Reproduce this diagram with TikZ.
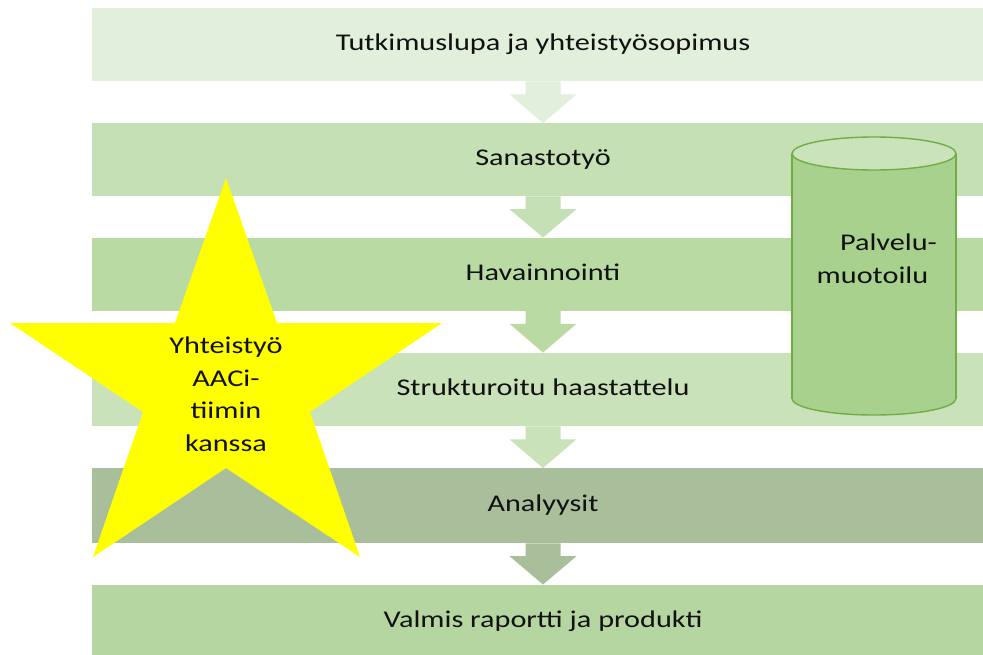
\documentclass[tikz,border=0pt]{standalone}
\usepackage{fontspec}
\setmainfont[FakeStretch=1.26]{Carlito}
\usetikzlibrary{calc}
\definecolor{cA}{HTML}{E2EFDA}
\definecolor{cB}{HTML}{C5E0B4}
\definecolor{cC}{HTML}{B9DBA3}
\definecolor{cD}{HTML}{C9E2B9}
\definecolor{cE}{HTML}{A9BF9B}
\definecolor{cF}{HTML}{B5D6A0}
\definecolor{cylbody}{HTML}{A9D18E}
\definecolor{cyltop}{HTML}{CBE3BA}
\definecolor{cylline}{HTML}{70AD47}
\definecolor{starfill}{HTML}{FFFF00}
\definecolor{txt}{HTML}{111111}
\newcommand\blockarrow[3]{%
  \fill[#3] ($(#1.south)+(-17.5,0)$) -- ($(#1.south)!0.31!(#2.north)+(-17.5,0)$)
    -- ($(#1.south)!0.31!(#2.north)+(-33.5,0)$) -- (#2.north)
    -- ($(#1.south)!0.31!(#2.north)+(33.5,0)$) -- ($(#1.south)!0.31!(#2.north)+(17.5,0)$)
    -- ($(#1.south)+(17.5,0)$) -- cycle;}
\begin{document}
\begin{tikzpicture}[x=1pt,y=-1pt,
  bar/.style={draw=none, minimum width=902pt, minimum height=73pt, inner sep=0pt,
    anchor=north, text height=17pt, text depth=5pt, text=txt,
    font=\fontsize{24}{29}\selectfont},
  lbl/.style={inner sep=0pt, text=txt, font=\fontsize{24}{29}\selectfont}]
\useasboundingbox (0,0) rectangle (983,654);
\fill[white] (0,0) rectangle (983,654);
\node[bar, fill=cA] (b1) at (543,8) {Tutkimuslupa ja yhteistyösopimus};
\node[bar, fill=cB] (b2) at (543,123) {Sanastotyö};
\node[bar, fill=cC] (b3) at (543,237.5) {Havainnointi};
\node[bar, fill=cD, minimum height=73.5pt] (b4) at (543,352.5) {Strukturoitu haastattelu};
\node[bar, fill=cE, minimum height=75pt] (b5) at (543,468) {Analyysit};
\node[bar, fill=cF, minimum height=75pt] (b6) at (543,584.5) {};
\node[lbl, anchor=base] (b6t) at (543,627.5) {Valmis raportti ja produkti};
\blockarrow{b1}{b2}{cA}
\blockarrow{b2}{b3}{cB}
\blockarrow{b3}{b4}{cC}
\blockarrow{b4}{b5}{cD}
\blockarrow{b5}{b6}{cE}
% cylinder
\filldraw[fill=cylbody, draw=cylline, line width=1.4pt] (874,398.5) ellipse [x radius=82, y radius=16.5];
\fill[cylbody] (792,153.5) rectangle (956,398.5);
\draw[cylline, line width=1.4pt] (792,153.5) -- (792,398.5) (956,153.5) -- (956,398.5);
\filldraw[fill=cyltop, draw=cylline, line width=1.4pt] (874,153.5) ellipse [x radius=82, y radius=16.5];
\node[lbl, anchor=base] (cyl1) at (888.5,250) {Palvelu-};
\node[lbl, anchor=base] (cyl2) at (872.5,283) {muotoilu};
% star
\fill[starfill] (226,178) -- (277,323) -- (442,323) -- (310,412) -- (360,557)
  -- (226,468) -- (93,557) -- (143,412) -- (10,323) -- (175,323) -- cycle;
\node[lbl, anchor=base] (s1) at (226,353) {Yhteistyö};
\node[lbl, anchor=base] (s2) at (226,386) {AACi-};
\node[lbl, anchor=base] (s3) at (226,418.5) {tiimin};
\node[lbl, anchor=base] (s4) at (226,451) {kanssa};
\end{tikzpicture}
\end{document}
